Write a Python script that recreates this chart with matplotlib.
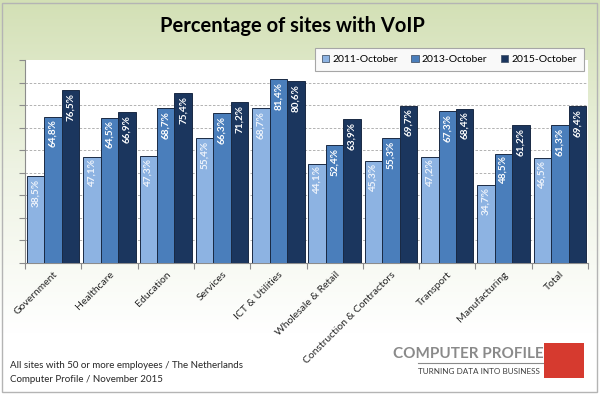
import numpy as np
import matplotlib
matplotlib.use('Agg')
import matplotlib.pyplot as plt
from matplotlib.patches import Rectangle, Patch
from matplotlib.colors import LinearSegmentedColormap
from matplotlib.lines import Line2D

plt.rcParams['font.family'] = ['Lato', 'DejaVu Sans']

# Data
sectors = ['Government', 'Healthcare', 'Education', 'Services', 'ICT & Utilities',
           'Wholesale & Retail', 'Construction & Contractors', 'Transport',
           'Manufacturing', 'Total']
periods = ['2011-October', '2013-October', '2015-October']
voip_2011 = [38.5, 47.1, 47.3, 55.4, 68.7, 44.1, 45.3, 47.2, 34.7, 46.5]
voip_2013 = [64.8, 64.5, 68.7, 66.3, 81.4, 52.4, 55.3, 67.3, 48.5, 61.3]
voip_2015 = [76.5, 66.9, 75.4, 71.2, 80.6, 63.9, 69.7, 68.4, 61.2, 69.4]

bar_colors = ['#8db3e2', '#4a7ebb', '#1b365e']
label_colors = ['#eef3fb', 'white', 'white']

W, H = 600, 394
fig = plt.figure(figsize=(6, 3.94), dpi=100)

# green-to-white background gradient
bg = fig.add_axes([0, 0, 1, 1], zorder=-10)
cmap = LinearSegmentedColormap.from_list('bg', ['#d3e0b5', '#eef3e3', '#ffffff'])
grad = np.linspace(0, 1, 256).reshape(-1, 1)
grad = np.clip(grad / 0.85, 0, 1)
bg.imshow(grad, aspect='auto', cmap=cmap, extent=[0, 1, 0, 1], origin='upper')
bg.set_xlim(0, 1)
bg.set_ylim(0, 1)
bg.axis('off')

ax = fig.add_axes([25 / W, 1 - 263 / H, 563 / W, 203 / H])
ax.set_facecolor('white')

x = np.arange(len(sectors))
w = 0.31
series = [voip_2011, voip_2013, voip_2015]
for i, vals in enumerate(series):
    pos = x + (i - 1) * w
    ax.bar(pos, vals, w, color=bar_colors[i], edgecolor='#1a2a44',
           linewidth=0.7, zorder=3, label=periods[i])
    for xi, v in zip(pos, vals):
        ax.text(xi, v - 1.2, f"{v:.1f}%".replace('.', ','), rotation=90,
                ha='center', va='top', color=label_colors[i], fontsize=7.2,
                fontweight='bold', zorder=4)

ax.set_xlim(-0.5, len(sectors) - 0.5)
ax.set_ylim(0, 90)
ax.set_yticks(range(0, 91, 10))
ax.set_yticklabels([])
ax.yaxis.grid(True, linestyle=(0, (3, 2)), color='#a6a6a6', linewidth=0.6)
gl = ax.get_ygridlines()
gl[0].set_visible(False)
gl[-1].set_visible(False)
ax.set_axisbelow(True)

ax.set_xticks(x)
ax.set_xticklabels(sectors, rotation=45, ha='right', rotation_mode='anchor',
                   fontsize=7.5, color='#262626')
ax.set_xticks(np.arange(-0.5, len(sectors), 1), minor=True)
ax.tick_params(axis='x', which='major', length=0, pad=5)
ax.tick_params(axis='x', which='minor', length=4, color='#8c8c8c', width=0.8)
ax.tick_params(axis='y', length=4, color='#8c8c8c', width=0.8)
for s in ['top', 'right']:
    ax.spines[s].set_visible(False)
for s in ['left', 'bottom']:
    ax.spines[s].set_color('#8c8c8c')
    ax.spines[s].set_linewidth(0.8)

# legend
handles = [Patch(facecolor=c, edgecolor='#4a5a70', linewidth=0.6) for c in bar_colors]
cx = (313 + 586) / 2 / W
cy = 1 - (47 + 72) / 2 / H
leg = fig.legend(handles, periods, loc='center', bbox_to_anchor=(cx, cy), ncol=3,
                 fontsize=7.5, frameon=True, fancybox=False, edgecolor='#a6a6a6',
                 facecolor='#f9f9f9', framealpha=1, handlelength=0.7,
                 handleheight=0.7, handletextpad=0.3, columnspacing=1.3,
                 borderpad=0.65)
leg.get_frame().set_linewidth(0.8)
leg.set_zorder(20)

# title
fig.text(0.487, 1 - 26 / H, 'Percentage of sites with VoIP', ha='center',
         va='center', fontsize=14.5, fontweight='bold', color='black')

# footnote
fig.text(10 / W, 1 - 366 / H, 'All sites with 50 or more employees / The Netherlands',
         ha='left', va='center', fontsize=7, color='#262626')
fig.text(10 / W, 1 - 380 / H, 'Computer Profile / November 2015',
         ha='left', va='center', fontsize=7, color='#262626')

# logo
fig.text(393 / W, 1 - 354 / H, 'COMPUTER PROFILE', ha='left', va='center',
         fontsize=11, color='#8a8a8a', fontweight='bold')
fig.add_artist(Line2D([418 / W, 543 / W], [1 - 363 / H, 1 - 363 / H],
                      color='#8a8a8a', linewidth=0.8, transform=fig.transFigure))
fig.text(418 / W, 1 - 371 / H, 'TURNING DATA INTO BUSINESS', ha='left', va='center',
         fontsize=5.9, color='#404040')
fig.add_artist(Rectangle((544 / W, 1 - 378 / H), 40 / W, 35 / H, facecolor='#d63a2f',
                         edgecolor='none', transform=fig.transFigure))

# outer border
fig.add_artist(Rectangle((2 / W, 2 / H), 595 / W, 389 / H, fill=False,
                         edgecolor='#b4b4b4', linewidth=1, transform=fig.transFigure))

fig.savefig('out.png', dpi=100)
